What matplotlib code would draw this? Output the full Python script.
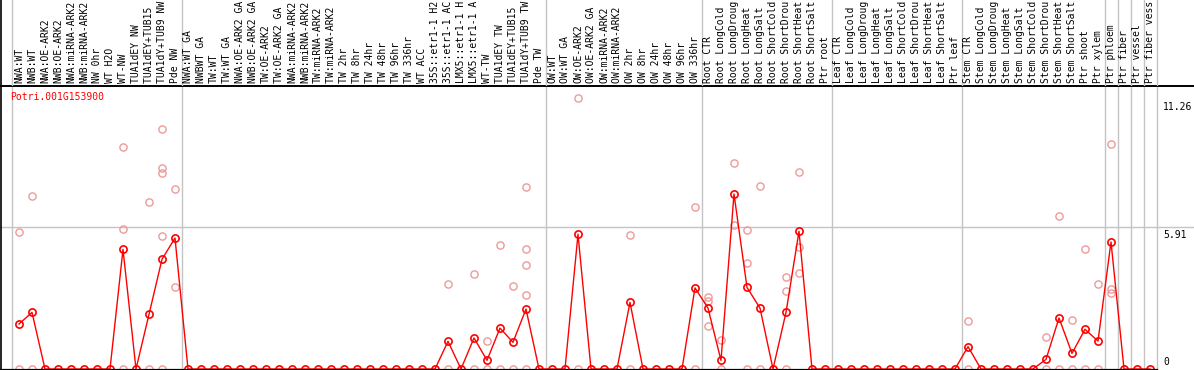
import numpy as np
import matplotlib
matplotlib.use("Agg")
from matplotlib import pyplot as plt

# sample labels, one per column
labels = [
    "NWA:WT", "NWB:WT", "NWA:OE-ARK2", "NWB:OE-ARK2", "NWA:miRNA-ARK2",
    "NWB:miRNA-ARK2", "NW 0hr", "WT H2O", "WT-NW", "TUA1dEY NW",
    "TUA1dEY+TUB15 NW", "TUA1dY+TUB9 NW", "Pde NW", "NWA:WT GA", "NWBWT GA",
    "TW:WT", "TW:WT GA", "NWA:OE-ARK2 GA", "NWB:OE-ARK2 GA", "TW:OE-ARK2",
    "TW:OE-ARK2 GA", "NWA:miRNA-ARK2 GA", "NWB:miRNA-ARK2 GA", "TW:miRNA-ARK2",
    "TW:miRNA-ARK2 GA", "TW 2hr", "TW 8hr", "TW 24hr", "TW 48hr", "TW 96hr",
    "TW 336hr", "WT ACC", "35S::etr1-1 H2O", "35S::etr1-1 ACC",
    "LMX5::etr1-1 H2O", "LMX5::etr1-1 ACC", "WT-TW", "TUA1dEY TW",
    "TUA1dEY+TUB15 TW", "TUA1dY+TUB9 TW", "Pde TW", "OW:WT", "OW:WT GA",
    "OW:OE-ARK2", "OW:OE-ARK2 GA", "OW:miRNA-ARK2", "OW:miRNA-ARK2 GA",
    "OW 2hr", "OW 8hr", "OW 24hr", "OW 48hr", "OW 96hr", "OW 336hr",
    "Root CTR", "Root LongCold", "Root LongDrought", "Root LongHeat",
    "Root LongSalt", "Root ShortCold", "Root ShortDrought", "Root ShortHeat",
    "Root ShortSalt", "Ptr root",
    "Leaf CTR", "Leaf LongCold", "Leaf LongDrought", "Leaf LongHeat",
    "Leaf LongSalt", "Leaf ShortCold", "Leaf ShortDrought", "Leaf ShortHeat",
    "Leaf ShortSalt", "Ptr leaf",
    "Stem CTR", "Stem LongCold", "Stem LongDrought", "Stem LongHeat",
    "Stem LongSalt", "Stem ShortCold", "Stem ShortDrought", "Stem ShortHeat",
    "Stem ShortSalt", "Ptr shoot", "Ptr xylem", "Ptr phloem", "Ptr fiber",
    "Ptr vessel", "Ptr fiber vessel",
]

# mean expression per column
means = [
    1.87, 2.35, 0, 0, 0, 0, 0, 0, 4.97, 0, 2.27, 4.56, 5.44,
    0, 0, 0, 0, 0, 0, 0, 0, 0, 0, 0, 0, 0, 0, 0, 0, 0, 0, 0, 0,
    1.15, 0, 1.29, 0.36, 1.70, 1.11, 2.49, 0,
    0, 0, 5.60, 0, 0, 0, 2.77, 0, 0, 0, 0, 3.37,
    2.53, 0.36, 7.27, 3.39, 2.53, 0, 2.35, 5.72, 0, 0,
    0, 0, 0, 0, 0, 0, 0, 0, 0, 0,
    0.93, 0, 0, 0, 0, 0, 0.40, 2.12, 0.65, 1.65, 1.16, 5.28, 0, 0, 0,
]

# individual replicate values (columns not listed are all zero)
rep_cols = [0, 1, 8, 10, 11, 12, 33, 35, 36, 37, 38, 39, 43, 47, 52,
            53, 54, 55, 56, 57, 59, 60, 73, 79, 80, 81, 82, 83, 84]
rep_vals = [
    [5.69, 0], [7.19, 0], [9.21, 5.80, 0], [6.93, 0],
    [9.96, 8.35, 8.14, 5.53, 0], [7.47, 3.41],
    [3.52, 0], [3.93, 0], [1.15, 0], [5.14, 0], [3.43, 0],
    [7.55, 4.97, 4.31, 3.06, 0], [11.26, 0], [5.55, 0], [6.72, 0],
    [2.99, 2.81, 1.79], [1.19, 0], [8.55, 6.00], [5.76, 4.40, 0], [7.59, 0],
    [3.81, 3.24, 0], [8.17, 5.06, 3.99],
    [1.98, 0], [1.33, 0], [6.36, 0], [2.04, 0], [4.97, 0], [3.53, 0],
    [9.34, 3.31, 3.17],
]

# columns after which a group separator is drawn
group_ends = [-1, 12, 40, 52, 62, 72, 83, 84, 85, 86, 87]

yticks = [0, 5.91, 11.26]
title = "Potri.001G153900"

W, H = 1194, 370
head_h = 86
mono = "DejaVu Sans Mono"
fs = 7.05
grey = "#c4c4c4"
red = "#ff0000"
pink = "#ee9a9a"

fig = plt.figure(figsize=(W / 100, H / 100), dpi=100)

x0 = -19 / 13
x1 = (W - 19) / 13
ax = fig.add_axes([0, 0, 1, (H - head_h) / H])
hx = fig.add_axes([0, (H - head_h) / H, 1, head_h / H])

ax.set_xlim(x0, x1)
ax.set_ylim(-1 / 24.07, (369 - head_h) / 24.07)
hx.set_xlim(x0, x1)
hx.set_ylim(0, 1)
hx.axis("off")

for s in ["right", "top", "bottom", "left"]:
    ax.spines[s].set_visible(False)
ax.set_xticks([])
ax.set_yticks([])

n = len(labels)
xs = np.arange(n)

# group separators through header and plot
for g in group_ends:
    ax.axvline(g + 0.5, color=grey, lw=1, zorder=1)
    hx.axvline(g + 0.5, color=grey, lw=1, zorder=1)

ax.axhline(5.91, color=grey, lw=1, zorder=1)

# frame lines
ax.axhline(ax.get_ylim()[1], color="black", lw=1.4, zorder=5, clip_on=False)
ax.plot([x0, 87.5], [ax.get_ylim()[0]] * 2, color="black", lw=1.6, zorder=5, clip_on=False)
fig.add_artist(plt.Line2D([0.5 / W, 0.5 / W], [0, 1], color="black", lw=1.2))

# replicates
for c, vals in zip(rep_cols, rep_vals):
    ax.plot([c] * len(vals), vals, "o", ms=5.2, mfc="none", mec=pink, mew=1,
            zorder=2, clip_on=False)

# means
ax.plot(xs, means, "-", color=red, lw=1, zorder=3)
ax.plot(xs, means, "o", ms=5.2, mfc="none", mec=red, mew=1.2, zorder=4,
        clip_on=False)

# header labels, shortened like the original page does
for i, lab in enumerate(labels):
    hx.text(i, 0.03, lab[:14], rotation=90, ha="center", va="bottom",
            family=mono, fontsize=fs)

# value labels on the right
lx = (1163 - 19) / 13
for v in yticks:
    if v == 0:
        ax.text(lx, 0.1, "0", ha="left", va="bottom", family=mono, fontsize=fs)
    else:
        ax.text(lx, v - 0.15, f"{v:.2f}", ha="left", va="top", family=mono,
                fontsize=fs)

fig.text(10 / W, 1 - 97 / H, title, color=red, family=mono, fontsize=fs,
         ha="left", va="center")

fig.savefig("out.png", dpi=100)
